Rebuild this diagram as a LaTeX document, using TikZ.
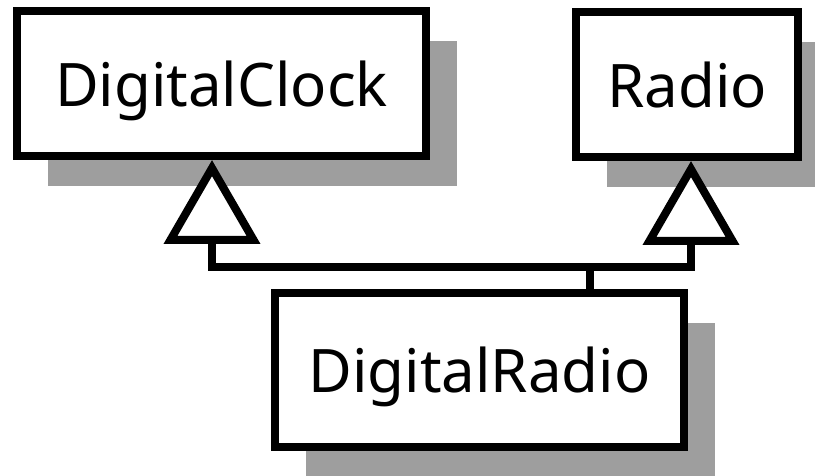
\documentclass[tikz,border=0pt]{standalone}
\usepackage{fontspec}
\setmainfont{Noto Sans}
\usetikzlibrary{shadows,arrows.meta}
\definecolor{shadowgray}{RGB}{158,158,158}
\begin{document}
\begin{tikzpicture}[x=1pt,y=-1pt,
  classbox/.style={draw, line width=8pt, fill=white, inner sep=0pt, text depth=0pt,
    font=\fontsize{60}{70}\selectfont,
    drop shadow={shadow xshift=31pt, shadow yshift=-30pt, fill=shadowgray, opacity=1}},
  gen/.style={line width=8pt, -{Triangle[open, length=84pt, width=95pt, fill=white]}},
  link/.style={line width=8pt}]
\useasboundingbox (0,0) rectangle (815,476);
\node[classbox, minimum width=409pt, minimum height=145pt] (dc) at (221.5,83.5) {DigitalClock};
\node[classbox, minimum width=222pt, minimum height=145pt] (radio) at (687,84.5) {Radio};
\node[classbox, minimum width=409pt, minimum height=154pt] (dr) at (479.5,370) {DigitalRadio};
\coordinate (j) at (590,267);
\draw[link] (dr.north -| j) -- (j);
\draw[gen] (j) -| ([xshift=-9.5pt]dc.south);
\draw[gen] (j) -| ([xshift=4pt]radio.south);
\end{tikzpicture}
\end{document}
